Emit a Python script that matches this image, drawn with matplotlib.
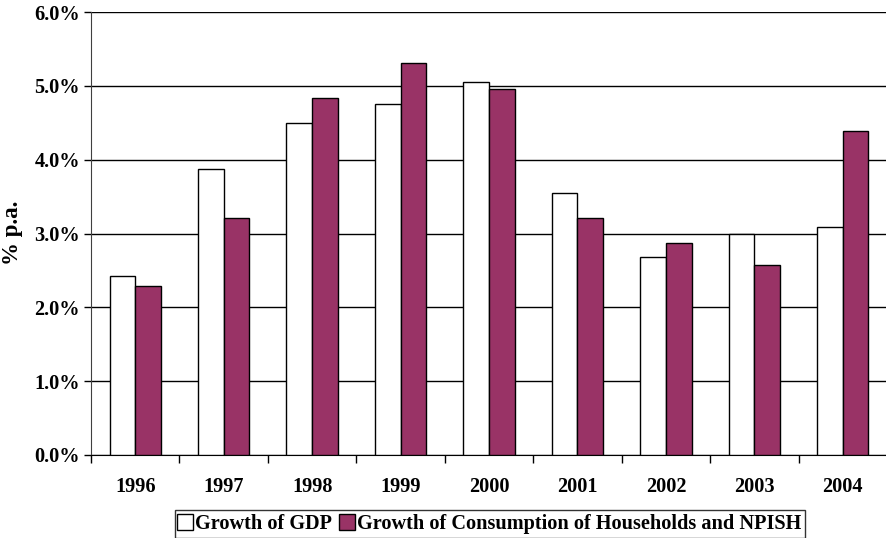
import matplotlib.pyplot as plt
import numpy as np
from matplotlib.ticker import FixedLocator, FuncFormatter
from matplotlib.lines import Line2D

years = ["1996", "1997", "1998", "1999", "2000", "2001", "2002", "2003", "2004"]
gdp = [2.42, 3.87, 4.49, 4.75, 5.05, 3.55, 2.68, 2.99, 3.09]
consumption = [2.29, 3.21, 4.83, 5.31, 4.96, 3.21, 2.87, 2.57, 4.39]
series_names = ["Growth of GDP", "Growth of Consumption of Households and NPISH"]

plt.rcParams['font.family'] = ['Liberation Serif', 'DejaVu Serif']
plt.rcParams['font.weight'] = 'bold'

fig = plt.figure(figsize=(8.87, 5.38), dpi=100)
W, H = 887, 538
ax = fig.add_axes([91 / W, 1 - 455 / H, (887 - 91) / W, (455 - 12) / H])

x = np.arange(len(years))
bw = 0.29
purple = '#993366'
ax.bar(x - bw / 2, gdp, bw, color='white', edgecolor='black', linewidth=1.0, zorder=3)
ax.bar(x + bw / 2, consumption, bw, color=purple, edgecolor='black', linewidth=1.0, zorder=3)

ax.set_xlim(-0.5, len(years) - 0.5)
ax.set_ylim(0, 6.0)
ax.set_yticks(np.arange(0, 6.01, 1.0))
ax.yaxis.set_major_formatter(FuncFormatter(lambda v, p: f"{v:.1f}%"))
ax.grid(axis='y', color='black', linewidth=1.0, zorder=0)

fs = 14.6
ax.set_xticks(x)
ax.set_xticklabels(years)
ax.xaxis.set_minor_locator(FixedLocator(np.arange(-0.5, len(years), 1.0)))
ax.tick_params(axis='x', which='major', length=0, pad=16, labelsize=fs)
ax.tick_params(axis='x', which='minor', length=6, width=1, direction='out', color='black')
ax.tick_params(axis='y', length=5, width=1, direction='out', labelsize=fs, pad=3)
for lab in ax.get_xticklabels() + ax.get_yticklabels():
    lab.set_fontweight('bold')

for s in ['top', 'right']:
    ax.spines[s].set_visible(False)
ax.spines['left'].set_color('#404040')
ax.spines['bottom'].set_color('black')

fig.text(13 / W, 1 - 233 / H, "% p.a.", rotation=90, ha='center', va='center',
         fontsize=16.5, fontweight='bold')

handles = [
    Line2D([], [], marker='s', linestyle='none', markersize=11, markerfacecolor='white', markeredgecolor='black'),
    Line2D([], [], marker='s', linestyle='none', markersize=11, markerfacecolor=purple, markeredgecolor='black'),
]
leg = fig.legend(handles, series_names, loc='lower center', bbox_to_anchor=(490 / W, 0.0),
                 ncol=2, frameon=True, fancybox=False, handlelength=0.6, handletextpad=0.2,
                 columnspacing=0.4, borderpad=0.2, prop={'size': fs, 'weight': 'bold'},
                 borderaxespad=0.0)
leg.get_frame().set_edgecolor('black')
leg.get_frame().set_linewidth(1.0)

fig.savefig('out.png', dpi=100)
